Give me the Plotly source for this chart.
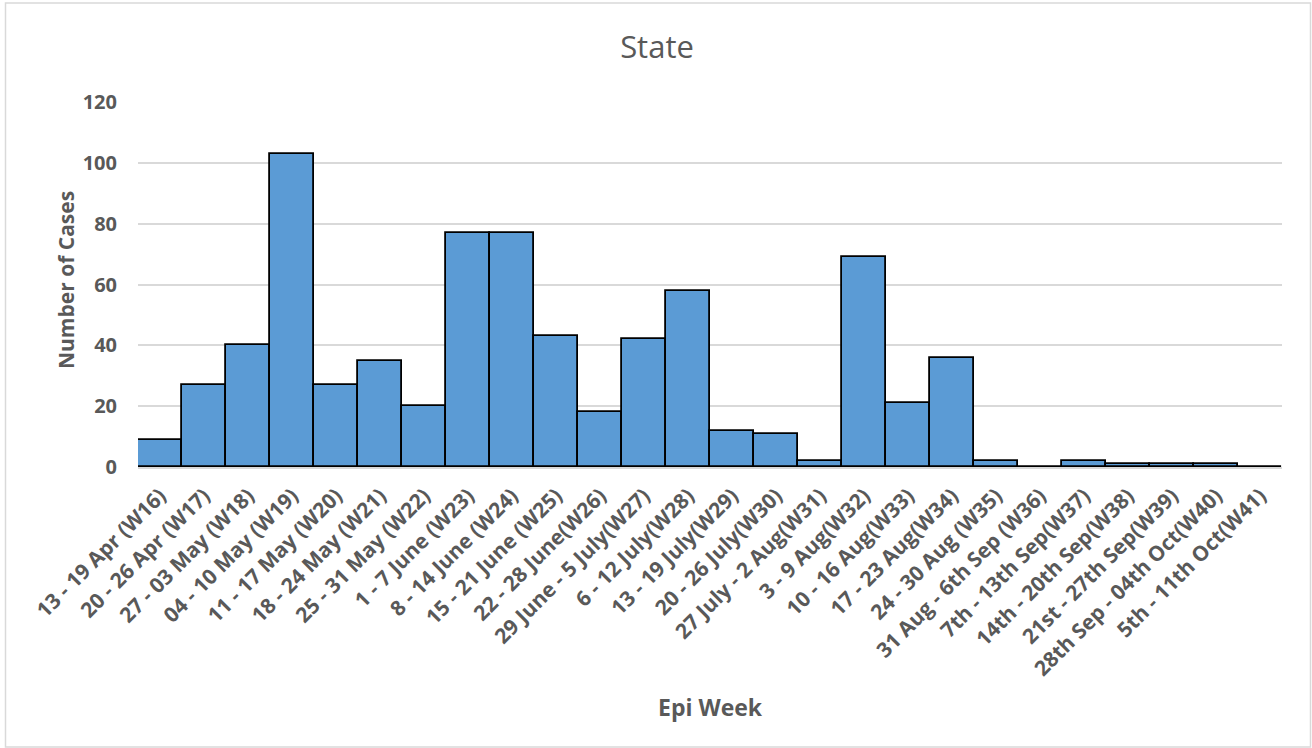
import plotly.graph_objects as go

weeks = [
    "13 - 19 Apr (W16)", "20 - 26 Apr (W17)", "27 - 03 May (W18)", "04 - 10 May (W19)",
    "11 - 17 May (W20)", "18 - 24 May (W21)", "25 - 31 May (W22)", "1 - 7 June (W23)",
    "8 - 14 June (W24)", "15 - 21 June (W25)", "22 - 28 June(W26)", "29 June - 5 July(W27)",
    "6 - 12 July(W28)", "13 - 19 July(W29)", "20 - 26 July(W30)", "27 July - 2 Aug(W31)",
    "3 - 9 Aug(W32)", "10 - 16 Aug(W33)", "17 - 23 Aug(W34)", "24 - 30 Aug (W35)",
    "31 Aug - 6th Sep (W36)", "7th - 13th Sep(W37)", "14th - 20th Sep(W38)",
    "21st - 27th Sep(W39)", "28th Sep - 04th Oct(W40)", "5th - 11th Oct(W41)",
]
cases = [9, 27, 40, 103, 27, 35, 20, 77, 77, 43, 18, 42, 58, 12, 11, 2, 69, 21, 36, 2, 0, 2, 1, 1, 1, 0]
y_ticks = [0, 20, 40, 60, 80, 100, 120]

FONT = "Open Sans"
GRAY = "#595959"

W, H = 1312, 748
L, R, T, B = 138, 30, 102, 281
PW, PH = W - L - R, H - T - B

fig = go.Figure(
    go.Bar(
        x=weeks,
        y=cases,
        marker=dict(color="#5b9bd5", line=dict(color="black", width=1.8)),
    )
)

fig.update_layout(
    width=W,
    height=H,
    margin=dict(l=L, r=R, t=T, b=B),
    paper_bgcolor="white",
    plot_bgcolor="white",
    bargap=0,
    showlegend=False,
    font=dict(family=FONT, color=GRAY),
    title=dict(
        text="State",
        x=(657 - L) / PW,
        xref="paper",
        xanchor="center",
        y=1 - 47 / H,
        yanchor="middle",
        font=dict(family=FONT, size=31, color=GRAY),
    ),
    xaxis=dict(
        tickangle=-45,
        tickfont=dict(family=FONT, size=21, color=GRAY, weight="bold"),
        ticklabelstandoff=6,
        showline=True,
        linecolor="#d9d9d9",
        linewidth=2,
        showgrid=False,
        ticks="",
    ),
    yaxis=dict(
        range=[0, 120],
        tickvals=y_ticks,
        tickfont=dict(family=FONT, size=20, color=GRAY, weight="bold"),
        showgrid=True,
        gridcolor="#d9d9d9",
        gridwidth=1.5,
        zeroline=False,
        showline=False,
        ticks="outside",
        ticklen=16,
        tickcolor="rgba(0,0,0,0)",
    ),
    annotations=[
        dict(
            text="<b>Epi Week</b>",
            xref="paper", yref="paper",
            x=(710 - L) / PW, y=(H - B - 707) / PH,
            showarrow=False,
            font=dict(family=FONT, size=23, color=GRAY),
            xanchor="center", yanchor="middle",
        ),
        dict(
            text="<b>Number of Cases</b>",
            xref="paper", yref="paper",
            x=(66 - L) / PW, y=(H - B - 280) / PH,
            textangle=-90,
            showarrow=False,
            font=dict(family=FONT, size=21, color=GRAY),
            xanchor="center", yanchor="middle",
        ),
    ],
    shapes=[
        dict(
            type="rect",
            xref="paper", yref="paper",
            x0=(5.5 - L) / PW, x1=(1310.5 - L) / PW,
            y0=(H - B - 747) / PH, y1=(H - B - 3) / PH,
            line=dict(color="#d9d9d9", width=1.5),
            fillcolor="rgba(0,0,0,0)",
        )
    ],
)

fig.write_html(
    "out.html",
    config={"displayModeBar": False},
    post_script="document.body.style.margin='0';",
)
